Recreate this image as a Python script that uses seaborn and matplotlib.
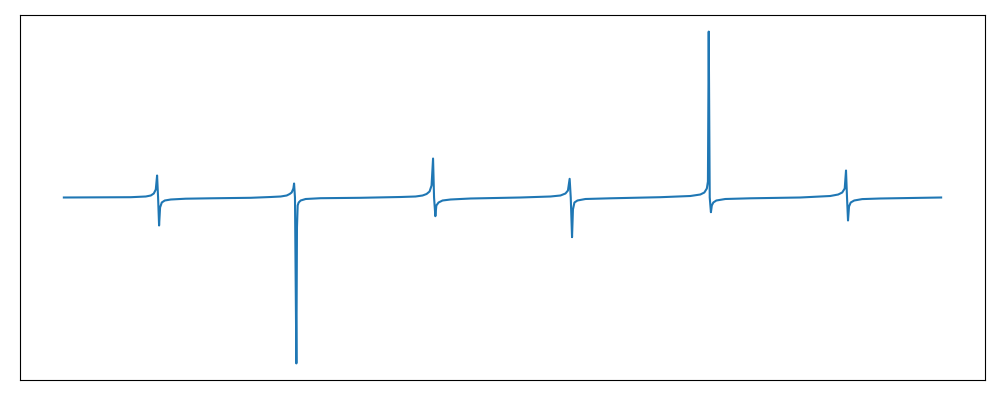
import numpy as np
import pandas as pd
import matplotlib
matplotlib.use('Agg')
import matplotlib.pyplot as plt
import seaborn as sns

# signal trace (arbitrary units, baseline = 0)
time = [63, 130, 145, 150, 153, 155, 156.3, 157.3, 158.3, 159.3, 161, 164, 170, 185, 210, 250,
        270, 280, 286, 289, 291, 292.7, 293.4, 294.3, 295.7, 296.3, 297, 298, 300, 305, 320, 360,
        400, 415, 422, 426, 429, 431, 432.5, 433.5, 434.8, 435.8, 438, 442, 450, 470, 520,
        550, 560, 565, 567.5, 569.2, 570.3, 571.6, 572.5, 574, 577, 585, 610, 660,
        690, 700, 704, 706.5, 707.6, 708.4, 709.4, 710.6, 711.5, 713, 716, 725, 750, 800,
        830, 838, 842, 844.5, 845.8, 846.8, 847.8, 848.8, 850.5, 854, 862, 880, 941]
signal = [0, 0.3, 1, 2, 4, 8, 22, 0, -28, -10, -5, -3, -2, -1.2, -0.8, -0.3,
          0.5, 1, 2, 3.5, 5, 9, 14, 0, -166, -30, -8, -5, -3, -1.5, -0.7, -0.3,
          0.5, 1, 2, 3.5, 6, 12, 39, 0, -18.7, -8, -5, -3, -2, -1, 0,
          1, 2, 4, 7, 18.7, 0, -39.7, -12, -5, -3, -1.5, -0.8, 0.3,
          1.5, 3, 5, 9, 16, 166, 0, -14.7, -8, -5, -3, -1.5, -0.8, 0,
          1.5, 3, 5, 9, 27, 0, -23, -9, -5, -3, -1.6, -1, 0]

df = pd.DataFrame({'time': time, 'signal': signal})

fig = plt.figure(figsize=(10, 4), dpi=100)
ax = fig.add_axes([0.02, 0.05, 0.965, 0.9125])
sns.lineplot(data=df, x='time', y='signal', ax=ax, color='#1f77b4', linewidth=1.5)
ax.set_xticks([])
ax.set_yticks([])
ax.set_xlabel('')
ax.set_ylabel('')
for s in ax.spines.values():
    s.set_color('black')
plt.savefig('out.png', dpi=100)
